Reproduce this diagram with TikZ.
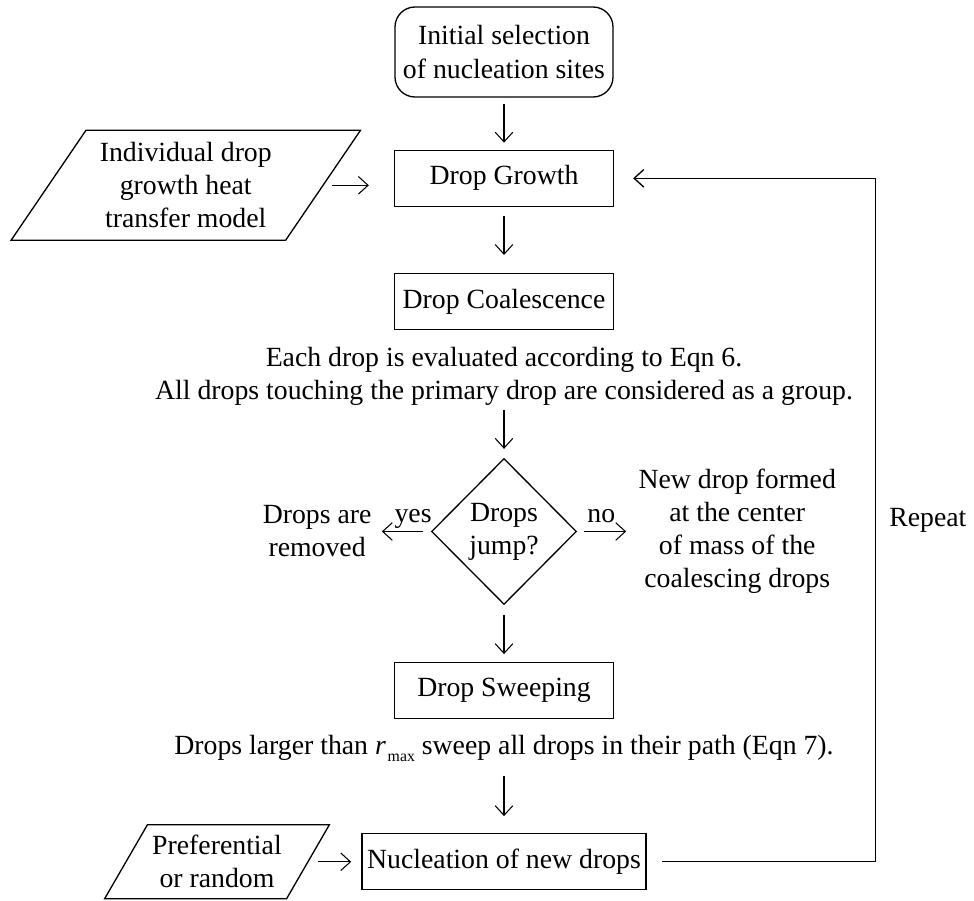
\documentclass[tikz,border=0pt]{standalone}
\usepackage{fontspec}
\setmainfont{Liberation Serif}
\usetikzlibrary{positioning,shapes.geometric,arrows.meta}

\begin{document}
\begin{tikzpicture}[node distance=1.0cm, >={Straight Barb[length=5.5pt,width=10pt]}]
      \tikzset{
          every node/.style={font=\fontsize{15.8}{18.8}\selectfont},
          start/.style={rectangle, rounded corners=0.4cm, draw=black, line width=0.75pt, minimum width=4.36cm, minimum height=1.8cm, align=center},
          process/.style={rectangle, draw=black, line width=0.75pt, minimum width=4.38cm, minimum height=1.12cm, inner xsep=3pt, text centered},
          input/.style={trapezium, trapezium left angle=53, trapezium right angle=127, trapezium stretches=true, draw=black, line width=0.75pt, inner sep=0pt, align=center},
          condition/.style={diamond, draw=black, line width=0.75pt, minimum width=2.9cm, minimum height=2.92cm, inner sep=0pt, align=center},
          note/.style={inner sep=2pt, align=center},
          answer/.style={above=1pt, inner sep=2pt, text depth=0.2em},
          myarrow/.style={draw, ->, line width=0.6pt},
      }
      \useasboundingbox (0,0) rectangle (19.48,-18.02);

      \node[start] (init) at (10.08,-1.04) {Initial selection\\of nucleation sites};
      \node[process, below=1.04cm of init] (growth) {Drop Growth};
      \node[process, below=1.32cm of growth] (coalesce) {Drop Coalescence};
      \node[note, below=0.27cm of coalesce] (evaluate) {Each drop is evaluated according to Eqn 6.\\All drops touching the primary drop are considered as a group.};
      \node[condition, below=0.96cm of evaluate] (jump) {Drops\\jump?};
      \node[note, left=1.11cm of jump] (removed) {Drops are\\removed};
      \node[note, right=1.15cm of jump] (newdrop) {New drop formed\\at the center\\of mass of the\\coalescing drops};
      \node[process, below=1.14cm of jump] (sweep) {Drop Sweeping};
      \node[note, below=0.24cm of sweep] (sweeprule) {Drops larger than \textit{r}\kern1pt\raisebox{-4pt}{\fontsize{9}{9}\selectfont max} sweep all drops in their path (Eqn 7).};
      \node[process, below=1.35cm of sweeprule] (nucleate) {Nucleation of new drops};
      \node[input, minimum width=7cm, minimum height=2.2cm, left=1.4cm of growth, yshift=-0.14cm] (model) {Individual drop\\growth heat\\transfer model};
      \node[input, minimum width=4.5cm, minimum height=1.48cm, left=1.05cm of nucleate] (prefer) {Preferential\\or random};

      \path[myarrow, shorten <=0.12cm, shorten >=0.14cm] (init.south) -- (growth.north);
      \path[myarrow, shorten <=0.18cm, shorten >=0.36cm] (growth.south) -- (coalesce.north);
      \path[myarrow, shorten >=0.18cm] (evaluate.south) -- (jump.north);
      \path[myarrow, shorten <=0.16cm, shorten >=0.13cm] (jump.west) -- node[answer, pos=0.32] {yes} (removed.east);
      \path[myarrow, shorten <=0.14cm, shorten >=0.17cm] (jump.east) -- node[answer, pos=0.42] {no} (newdrop.west);
      \path[myarrow, shorten <=0.2cm, shorten >=0.16cm] (jump.south) -- (sweep.north);
      \path[myarrow, shorten <=0.21cm, shorten >=0.34cm] (sweeprule.south) -- (nucleate.north);
      \path[myarrow, shorten <=0.16cm, shorten >=0.5cm] (model.east) -- (model.east -| growth.west);
      \path[myarrow, shorten <=0.19cm, shorten >=0.2cm] (prefer.east) -- (nucleate.west);
      \path[myarrow, line width=0.75pt, shorten <=0.3cm, shorten >=0.38cm] (nucleate.east) -- ++(4.58,0) |- node[right=4pt, pos=0.25] {Repeat} (growth.east);

\end{tikzpicture}
\end{document}
